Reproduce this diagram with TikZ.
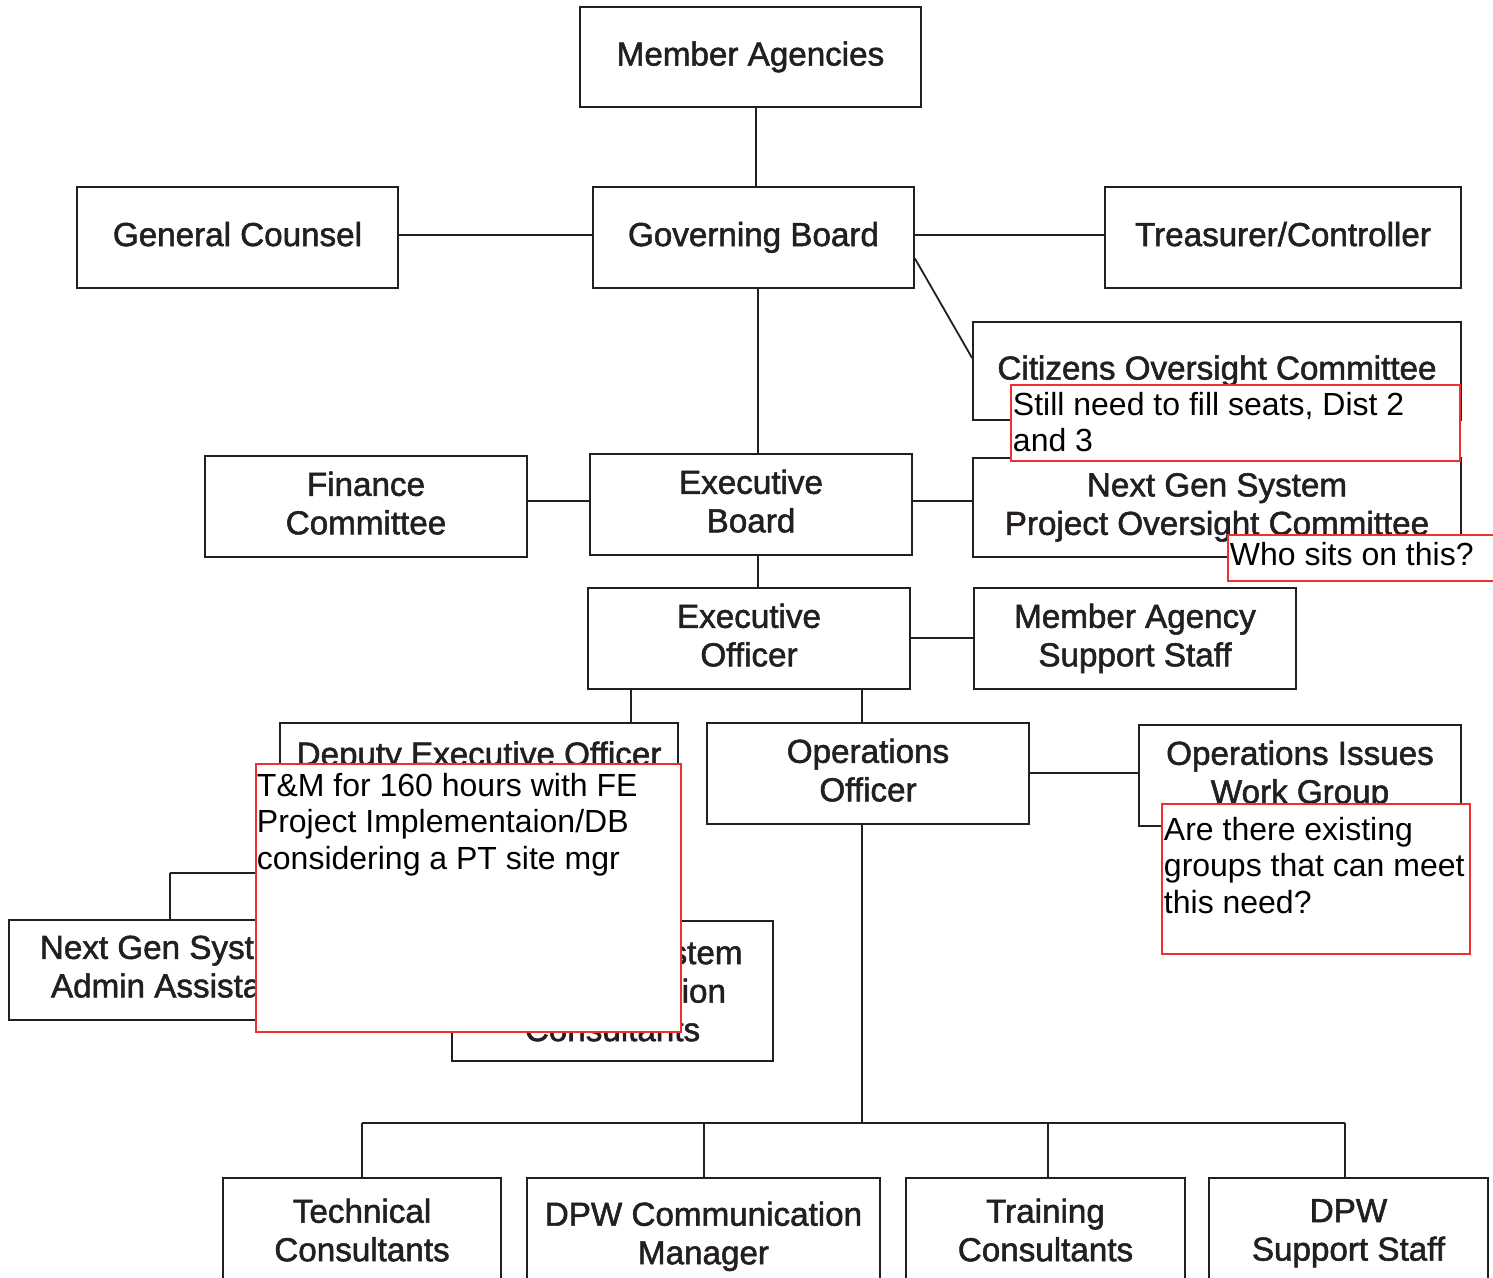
\documentclass[tikz,border=0pt]{standalone}
\usepackage{fontspec}
\setmainfont{Liberation Sans}
\newfontfamily\orgboxfamily{Liberation Sans}[FakeBold=1.6]
\usetikzlibrary{calc}
\definecolor{ink}{RGB}{35,31,32}
\definecolor{notered}{RGB}{240,48,48}
\newcommand\orgboxfont{\orgboxfamily\fontsize{33.2}{38.5}\selectfont}
\newcommand\orgnotefont{\fontsize{32}{36.7}\selectfont}
\begin{document}
\begin{tikzpicture}[x=1pt,y=-1pt,
  box/.style={draw=ink, line width=1.8pt, fill=white, text=ink, font=\orgboxfont,
              align=center, inner sep=0pt, text depth=7pt},
  conn/.style={draw=ink, line width=1.8pt},
  note/.style={draw=notered, line width=2.5pt, fill=white, inner sep=0pt},
  notetext/.style={font=\orgnotefont, align=left, anchor=north west, inner sep=0pt, text=black}]
\useasboundingbox (0,0) rectangle (1493,1277);
\clip (0,0) rectangle (1493,1277);

% ---------------- boxes ----------------
\node[box, minimum width=341pt, minimum height=100pt] (ma) at (750.5,57) {Member Agencies};
\node[box, minimum width=321pt, minimum height=101pt] (gc) at (237.5,237.5) {General Counsel};
\node[box, minimum width=321pt, minimum height=101pt] (gb) at (753.5,237.5) {Governing Board};
\node[box, minimum width=356pt, minimum height=101pt] (tc) at (1283,237.5) {Treasurer/Controller};
\node[box, minimum width=488pt, minimum height=98pt] (coc) at (1217,371) {Citizens Oversight Committee};
\node[box, minimum width=322pt, minimum height=101pt] (fc) at (366,506.5) {Finance\\Committee};
\node[box, minimum width=322pt, minimum height=101pt] (eb) at (751,504.5) {Executive\\Board};
\node[box, minimum width=488pt, minimum height=99pt] (ngs) at (1217,507.5) {Next Gen System\\Project Oversight Committee};
\node[box, minimum width=322pt, minimum height=101pt] (eo) at (749,638.5) {Executive\\Officer};
\node[box, minimum width=322pt, minimum height=101pt] (mas) at (1135,638.5) {Member Agency\\Support Staff};
\node[box, minimum width=398pt, minimum height=68pt] (deo) at (479,757) {Deputy Executive Officer};
\node[box, minimum width=322pt, minimum height=101pt] (oo) at (868,773.5) {Operations\\Officer};
\node[box, minimum width=322pt, minimum height=101pt] (oiwg) at (1300,775.5) {Operations Issues\\Work Group};
\node[box, minimum width=322pt, minimum height=100pt] (aa) at (170,970) {Next Gen System\\Admin Assistant};
\node[box, minimum width=321pt, minimum height=140pt, text depth=-9pt] (ic) at (612.5,991) {Next Gen System\\Implementation\\Consultants};
\node[box, anchor=north, minimum width=278pt, minimum height=111pt] (tcons) at (362,1177) {Technical\\Consultants};
\node[box, anchor=north, minimum width=353pt, minimum height=117pt] (dpwcm) at (703.5,1177) {DPW Communication\\Manager};
\node[box, anchor=north, minimum width=279pt, minimum height=111pt] (trc) at (1045.5,1177) {Training\\Consultants};
\node[box, anchor=north, minimum width=279pt, minimum height=111pt] (dpwss) at (1348.5,1177) {DPW\\Support Staff};

% ---------------- connectors ----------------
\draw[conn] ([xshift=5.5pt]ma.south) -- ([xshift=5.5pt]ma.south |- gb.north);
\draw[conn] (gc.east |- 0,235) -- (gb.west |- 0,235);
\draw[conn] (gb.east |- 0,235) -- (tc.west |- 0,235);
\draw[conn] ([yshift=-21pt]gb.east) -- ([yshift=13pt]coc.west);
\draw[conn] (gb.south -| 758,0) -- (eb.north -| 758,0);
\draw[conn] (fc.east |- 0,501) -- (eb.west |- 0,501);
\draw[conn] (eb.east |- 0,501) -- (ngs.west |- 0,501);
\draw[conn] (eb.south -| 758,0) -- (eo.north -| 758,0);
\draw[conn] (eo.east |- 0,638) -- (mas.west |- 0,638);
\draw[conn] (eo.south -| 631,0) -- (deo.north -| 631,0);
\draw[conn] (eo.south -| 862,0) -- (oo.north -| 862,0);
\draw[conn] (oo.east |- 0,773) -- (oiwg.west |- 0,773);
% Deputy branch
\coordinate (dbus) at (479,873);
\draw[conn] (deo.south) -- (dbus);
\draw[conn] (aa.north |- dbus) -- (ic.north |- dbus);
\draw[conn] (aa.north |- dbus) -- (aa.north);
\draw[conn] (ic.north |- dbus) -- (ic.north);
% Operations branch
\coordinate (bus) at (862,1123);
\draw[conn] (oo.south -| bus) -- (bus);
\draw[conn] (bus -| tcons.north) -- (bus -| 1345,0);
\draw[conn] (bus -| tcons.north) -- (tcons.north);
\draw[conn] (bus -| 704,0) -- (dpwcm.north -| 704,0);
\draw[conn] (bus -| 1048,0) -- (trc.north -| 1048,0);
\draw[conn] (bus -| 1345,0) -- (dpwss.north -| 1345,0);

% ---------------- notes ----------------
\node[note, minimum width=449pt, minimum height=76pt] (n1) at (1235.5,423) {};
\node[notetext] at ([xshift=3pt,yshift=-8pt]n1.north west) {Still need to fill seats, Dist 2\\and 3};
\node[note, minimum width=290pt, minimum height=46pt] (n2) at (1373,558) {};
\node[notetext] at ([xshift=3pt,yshift=-8pt]n2.north west) {Who sits on this?};
\node[note, minimum width=425pt, minimum height=268pt] (n3) at (468.5,898) {};
\node[notetext] at ([xshift=2pt,yshift=-10pt]n3.north west) {T\&M for 160 hours with FE\\Project Implementaion/DB\\considering a PT site mgr};
\node[note, minimum width=308pt, minimum height=150pt] (n4) at (1316,879) {};
\node[notetext] at ([xshift=3pt,yshift=-14pt]n4.north west) {Are there existing\\groups that can meet\\this need?};
\end{tikzpicture}
\end{document}
